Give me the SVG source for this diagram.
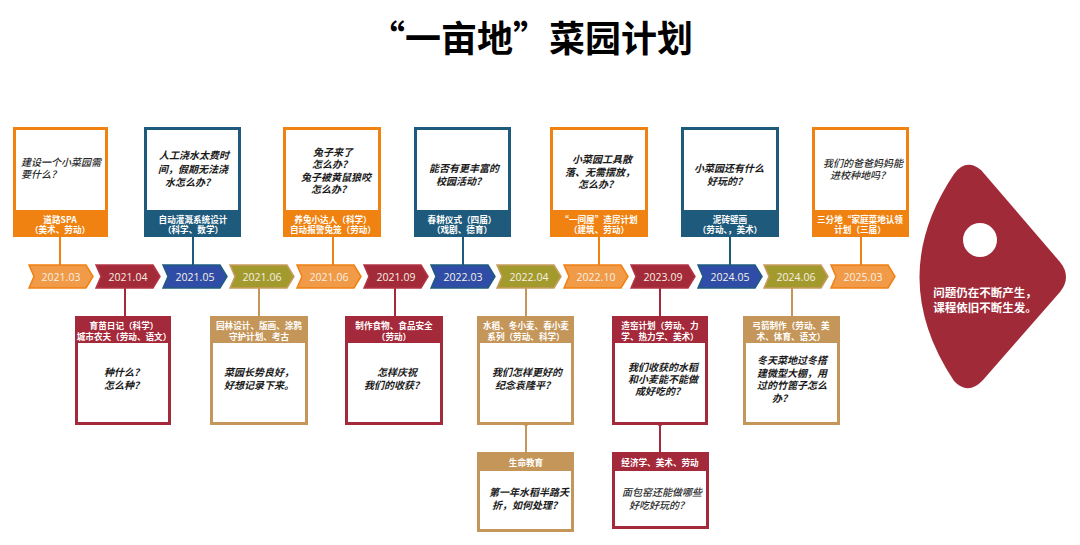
<svg xmlns="http://www.w3.org/2000/svg" width="1080" height="545" viewBox="0 0 1080 545">
<style>
text{font-family:"Noto Sans CJK SC","Noto Sans",sans-serif}
.title{font-size:36px;font-weight:bold;fill:#000;text-anchor:middle}
.q{font-size:10px;font-style:italic;font-weight:bold;fill:#1a1a1a;text-anchor:middle}
.ql{font-size:10px;font-style:italic;font-weight:500;fill:#2a2a2a;text-anchor:middle}
.lab{font-size:8.6px;font-weight:bold;fill:#fff;text-anchor:middle}
.yr{font-family:"Open Sans","Noto Sans",sans-serif;font-size:10.5px;fill:#f6f1e4;text-anchor:middle}
.or{fill:#fff;stroke:#ef8210;stroke-width:3}
.bl{fill:#fff;stroke:#1e5a7b;stroke-width:3}
.rd{fill:#fff;stroke:#a4293a;stroke-width:3}
.tn{fill:#fff;stroke:#c4965a;stroke-width:3}
.fo{fill:#ef8210}.fb{fill:#1e5a7b}.fr{fill:#a4293a}.ft{fill:#c4965a}
.co{fill:#f19a48;stroke:#f08010;stroke-width:1.5}
.cr{fill:#a32a38;stroke:#b23545;stroke-width:1.5}
.cb{fill:#2f4da6;stroke:#1f5b7e;stroke-width:1.5}
.cy{fill:#a39a2e;stroke:#c89c5e;stroke-width:1.5}
.lo{stroke:#ef8210;stroke-width:2;fill:none}
.lb{stroke:#1e5a7b;stroke-width:2;fill:none}
.lr{stroke:#a4293a;stroke-width:2;fill:none}
.lt{stroke:#c4965a;stroke-width:2;fill:none}
</style>
<rect width="1080" height="545" fill="#fff"/>
<text class="title" x="531" y="52">“一亩地”菜园计划</text>

<g id="connectors">
<line class="lo" x1="60" y1="237" x2="60" y2="266"/>
<line class="lb" x1="193" y1="237" x2="193" y2="266"/>
<line class="lo" x1="333" y1="237" x2="333" y2="266"/>
<line class="lb" x1="463" y1="237" x2="463" y2="266"/>
<line class="lo" x1="599" y1="237" x2="599" y2="266"/>
<line class="lb" x1="730" y1="237" x2="730" y2="266"/>
<line class="lo" x1="861" y1="237" x2="861" y2="266"/>
<line class="lr" x1="125" y1="288" x2="125" y2="316"/>
<line class="lt" x1="259" y1="288" x2="259" y2="316"/>
<line class="lr" x1="395" y1="288" x2="395" y2="316"/>
<line class="lt" x1="526" y1="288" x2="526" y2="316"/>
<line class="lr" x1="660" y1="288" x2="660" y2="316"/>
<line class="lt" x1="792" y1="288" x2="792" y2="316"/>
<line class="lt" x1="526" y1="423" x2="526" y2="452"/>
<circle cx="526" cy="423" r="3" fill="#c4965a"/>
<line class="lr" x1="660" y1="423" x2="660" y2="452"/>
<circle cx="660" cy="423" r="3" fill="#a4293a"/>
</g>

<g id="timeline">
<g id="t1"><path class="co" d="M29,265 H86 L93,276.5 L86,288 H29 L34,276.5 Z"/><text class="yr" x="61" y="281">2021.03</text></g>
<g id="t2"><path class="cr" d="M96,265 H153 L160,276.5 L153,288 H96 L101,276.5 Z"/><text class="yr" x="128" y="281">2021.04</text></g>
<g id="t3"><path class="cb" d="M163,265 H220 L227,276.5 L220,288 H163 L168,276.5 Z"/><text class="yr" x="195" y="281">2021.05</text></g>
<g id="t4"><path class="cy" d="M230,265 H287 L294,276.5 L287,288 H230 L235,276.5 Z"/><text class="yr" x="262" y="281">2021.06</text></g>
<g id="t5"><path class="co" d="M297,265 H354 L361,276.5 L354,288 H297 L302,276.5 Z"/><text class="yr" x="329" y="281">2021.06</text></g>
<g id="t6"><path class="cr" d="M364,265 H421 L428,276.5 L421,288 H364 L369,276.5 Z"/><text class="yr" x="396" y="281">2021.09</text></g>
<g id="t7"><path class="cb" d="M431,265 H488 L495,276.5 L488,288 H431 L436,276.5 Z"/><text class="yr" x="463" y="281">2022.03</text></g>
<g id="t8"><path class="cy" d="M497,265 H554 L561,276.5 L554,288 H497 L502,276.5 Z"/><text class="yr" x="529" y="281">2022.04</text></g>
<g id="t9"><path class="co" d="M564,265 H621 L628,276.5 L621,288 H564 L569,276.5 Z"/><text class="yr" x="596" y="281">2022.10</text></g>
<g id="t10"><path class="cr" d="M631,265 H688 L695,276.5 L688,288 H631 L636,276.5 Z"/><text class="yr" x="663" y="281">2023.09</text></g>
<g id="t11"><path class="cb" d="M698,265 H755 L762,276.5 L755,288 H698 L703,276.5 Z"/><text class="yr" x="730" y="281">2024.05</text></g>
<g id="t12"><path class="cy" d="M764,265 H821 L828,276.5 L821,288 H764 L769,276.5 Z"/><text class="yr" x="796" y="281">2024.06</text></g>
<g id="t13"><path class="co" d="M831,265 H888 L895,276.5 L888,288 H831 L836,276.5 Z"/><text class="yr" x="863" y="281">2025.03</text></g>
</g>

<g id="top1"><rect class="or" x="14.5" y="128.5" width="92" height="107"/><rect class="fo" x="13" y="210" width="95" height="27"/>
<text class="ql" style="text-anchor:start"><tspan x="21" y="166">建设一个小菜园需</tspan><tspan x="21" y="178">要什么？</tspan></text>
<text class="lab"><tspan x="60" y="222.5">道路SPA</tspan><tspan x="60" y="233">（美术、劳动）</tspan></text></g>

<g id="top2"><rect class="bl" x="145.5" y="128.5" width="94" height="107"/><rect class="fb" x="144" y="210" width="97" height="27"/>
<text class="q"><tspan x="194" y="159">人工浇水太费时</tspan><tspan x="193" y="172.5">间，假期无法浇</tspan><tspan x="190" y="186">水怎么办？</tspan></text>
<text class="lab"><tspan x="193" y="222.5">自动灌溉系统设计</tspan><tspan x="193" y="233">（科学、数学）</tspan></text></g>

<g id="top3"><rect class="or" x="284.5" y="128.5" width="95" height="107"/><rect class="fo" x="283" y="210" width="98" height="27"/>
<text class="q"><tspan x="333" y="156">兔子来了</tspan><tspan x="332" y="168">怎么办？</tspan><tspan x="336" y="180.5">兔子被黄鼠狼咬</tspan><tspan x="331" y="192.5">怎么办？</tspan></text>
<text class="lab"><tspan x="333" y="222.5">养兔小达人（科学）</tspan><tspan x="333" y="233">自动报警兔笼（劳动）</tspan></text></g>

<g id="top4"><rect class="bl" x="415.5" y="128.5" width="94" height="107"/><rect class="fb" x="414" y="210" width="97" height="27"/>
<text class="q"><tspan x="464" y="172">能否有更丰富的</tspan><tspan x="461" y="184.5">校园活动？</tspan></text>
<text class="lab"><tspan x="462" y="222.5">春耕仪式（四届）</tspan><tspan x="462" y="233">（戏剧、德育）</tspan></text></g>

<g id="top5"><rect class="or" x="551.5" y="128.5" width="95" height="107"/><rect class="fo" x="550" y="210" width="98" height="27"/>
<text class="q"><tspan x="602" y="163">小菜园工具散</tspan><tspan x="600" y="175.5">落、无需摆放，</tspan><tspan x="598" y="187.5">怎么办？</tspan></text>
<text class="lab"><tspan x="599" y="222.5">“一间屋”造房计划</tspan><tspan x="599" y="233">（建筑、劳动）</tspan></text></g>

<g id="top6"><rect class="bl" x="682.5" y="128.5" width="95" height="107"/><rect class="fb" x="681" y="210" width="98" height="27"/>
<text class="q"><tspan x="729" y="172">小菜园还有什么</tspan><tspan x="727" y="184.5">好玩的？</tspan></text>
<text class="lab"><tspan x="730" y="222.5">泥砖壁画</tspan><tspan x="730" y="233">（劳动、，美术）</tspan></text></g>

<g id="top7"><rect class="or" x="813.5" y="128.5" width="94" height="107"/><rect class="fo" x="812" y="210" width="97" height="27"/>
<text class="ql"><tspan x="863" y="166.5">我们的爸爸妈妈能</tspan><tspan x="860" y="178.5">进校种地吗？</tspan></text>
<text class="lab"><tspan x="860" y="222.5">三分地“家庭菜地认领</tspan><tspan x="860" y="233">计划（三届）</tspan></text></g>

<g id="bot1"><rect class="rd" x="76.5" y="317.5" width="93" height="106"/><rect class="fr" x="75" y="316" width="96" height="27"/>
<text class="lab"><tspan x="124" y="328.5">育苗日记（科学）</tspan><tspan x="124" y="339.5">城市农夫（劳动、语文）</tspan></text>
<text class="q"><tspan x="124" y="376">种什么？</tspan><tspan x="124" y="388.5">怎么种？</tspan></text></g>

<g id="bot2"><rect class="tn" x="211.5" y="317.5" width="95" height="106"/><rect class="ft" x="210" y="316" width="98" height="27"/>
<text class="lab"><tspan x="259" y="328.5">园林设计、版画、涂鸦</tspan><tspan x="259" y="339.5">守护计划、考古</tspan></text>
<text class="q"><tspan x="259" y="376">菜园长势良好，</tspan><tspan x="259" y="388.5">好想记录下来。</tspan></text></g>

<g id="bot3"><rect class="rd" x="346.5" y="317.5" width="95" height="106"/><rect class="fr" x="345" y="316" width="98" height="27"/>
<text class="lab"><tspan x="394" y="328.5">制作食物、食品安全</tspan><tspan x="394" y="339.5">（劳动）</tspan></text>
<text class="q"><tspan x="397" y="376">怎样庆祝</tspan><tspan x="394" y="388.5">我们的收获？</tspan></text></g>

<g id="bot4"><rect class="tn" x="478.5" y="317.5" width="94" height="106"/><rect class="ft" x="477" y="316" width="97" height="27"/>
<text class="lab"><tspan x="526" y="328.5">水稻、冬小麦、春小麦</tspan><tspan x="526" y="339.5">系列（劳动、科学）</tspan></text>
<text class="q"><tspan x="527" y="376">我们怎样更好的</tspan><tspan x="525" y="388.5">纪念袁隆平？</tspan></text></g>

<g id="bot5"><rect class="rd" x="613.5" y="317.5" width="93" height="106"/><rect class="fr" x="612" y="316" width="96" height="27"/>
<text class="lab"><tspan x="660" y="328.5">造窑计划（劳动、力</tspan><tspan x="660" y="339.5">学、热力学、美术）</tspan></text>
<text class="q"><tspan x="663" y="371">我们收获的水稻</tspan><tspan x="663" y="383">和小麦能不能做</tspan><tspan x="660" y="395">成好吃的？</tspan></text></g>

<g id="bot6"><rect class="tn" x="744.5" y="317.5" width="94" height="106"/><rect class="ft" x="743" y="316" width="97" height="27"/>
<text class="lab"><tspan x="791" y="328.5">弓箭制作（劳动、美</tspan><tspan x="791" y="339.5">术、体育、语文）</tspan></text>
<text class="q" style="text-anchor:start"><tspan x="757" y="364">冬天菜地过冬搭</tspan><tspan x="757" y="376.5">建微型大棚，用</tspan><tspan x="757" y="389">过的竹篦子怎么</tspan><tspan x="772" y="401.5">办？</tspan></text></g>

<g id="low1"><rect class="tn" x="478.5" y="453.5" width="94" height="77"/><rect class="ft" x="477" y="452" width="97" height="19"/>
<text class="lab" x="526" y="465.5">生命教育</text>
<text class="q"><tspan x="529" y="496">第一年水稻半路夭</tspan><tspan x="527" y="509">折，如何处理？</tspan></text></g>

<g id="low2"><rect class="rd" x="613.5" y="453.5" width="94" height="74"/><rect class="fr" x="612" y="452" width="97" height="19"/>
<text class="lab" x="660" y="465.5">经济学、美术、劳动</text>
<text class="ql"><tspan x="662" y="496">面包窑还能做哪些</tspan><tspan x="659" y="509">好吃好玩的？</tspan></text></g>

<g id="pick">
<path d="M954,174 Q966,158 981,170 L1060,262 Q1072,277 1060,292 L983,380 Q968,396 954,381 Q885,277 954,174 Z" fill="#a12a38"/>
<circle cx="980" cy="240" r="17" fill="#fff"/>
<text style="font-size:11.5px;font-weight:bold;fill:#fff;text-anchor:middle"><tspan x="985" y="296.5">问题仍在不断产生，</tspan><tspan x="985" y="311.5">课程依旧不断生发。</tspan></text>
</g>
</svg>
